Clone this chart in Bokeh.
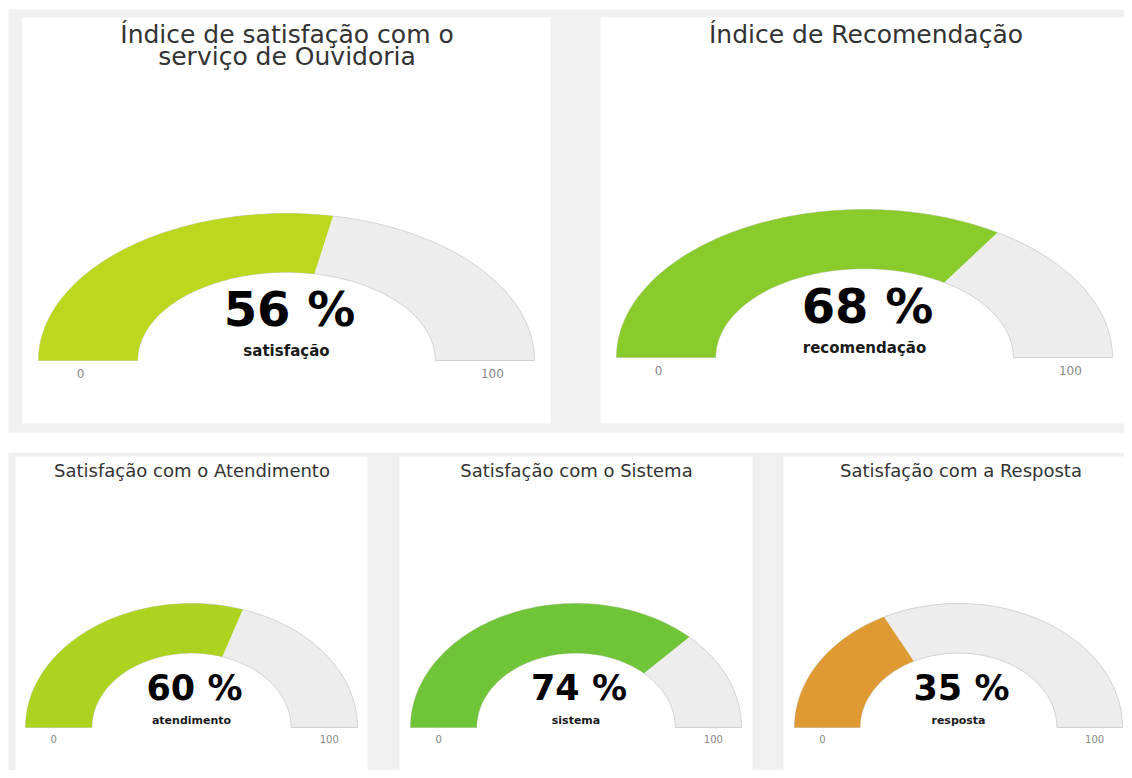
import numpy as np
from bokeh.plotting import figure
from bokeh.models import Range1d
from bokeh.core.properties import value
from bokeh.embed import file_html
from bokeh.resources import INLINE

# ---------------- data ----------------
title_lines = [["Índice de satisfação com o", "serviço de Ouvidoria"],
               ["Índice de Recomendação"],
               ["Satisfação com o Atendimento"],
               ["Satisfação com o Sistema"],
               ["Satisfação com a Resposta"]]
values_pct = [56, 68, 60, 74, 35]
value_labels = ["satisfação", "recomendação", "atendimento", "sistema", "resposta"]
gauge_min = 0
gauge_max = 100
bar_colors = ["#BBD71E", "#8ACB2C", "#ABD31F", "#6FC437", "#DF9A33"]

# ---------------- layout (picture pixels) ----------------
FONT = "DejaVu Sans"
BG_GRAY = "#F0F0F0"
W, H = 1124, 770
panels = [(22, 550, 17, 423), (600, 1128, 17, 423),
          (15, 367, 456, 778), (399, 752, 456, 778), (783, 1132, 456, 778)]
top = dict(tsize=25, vsize=48, vdy=52, lsize=15, ldy=9.5, msize=12, mdy=13)
bot = dict(tsize=18, vsize=35, vdy=40, lsize=11, ldy=7, msize=10, mdy=11)
geo = [
    dict(cx=286, cy=360, rx=248, ry=147, tx=286.5, ty=[34, 56], **top),
    dict(cx=864, cy=357, rx=248, ry=148, tx=865.5, ty=[34], **top),
    dict(cx=191, cy=727, rx=166, ry=124, tx=191.5, ty=[470], **bot),
    dict(cx=575.5, cy=727, rx=165.5, ry=124, tx=576, ty=[470], **bot),
    dict(cx=958, cy=727, rx=164, ry=124, tx=960.5, ty=[470], **bot),
]
INNER = 0.6

p = figure(width=W, height=H, x_range=Range1d(0, W), y_range=Range1d(H, 0),
           output_backend="svg", toolbar_location=None, min_border=0,
           x_axis_type=None, y_axis_type=None, outline_line_color=None,
           background_fill_color="white", border_fill_color="white")
p.grid.visible = False

# background blocks
p.quad(left=[8, 8], right=[1132, 1132], top=[9, 452], bottom=[432, 778],
       fill_color=BG_GRAY, line_color=None)
p.quad(left=[b[0] for b in panels], right=[b[1] for b in panels],
       top=[b[2] for b in panels], bottom=[b[3] for b in panels],
       fill_color="white", line_color=None)


def arc_band(g, v0, v1, n=120):
    a0 = np.pi * (1 - (v0 - gauge_min) / (gauge_max - gauge_min))
    a1 = np.pi * (1 - (v1 - gauge_min) / (gauge_max - gauge_min))
    t = np.linspace(a0, a1, n)
    xo = g["cx"] + g["rx"] * np.cos(t)
    yo = g["cy"] - g["ry"] * np.sin(t)
    xi = g["cx"] + INNER * g["rx"] * np.cos(t[::-1])
    yi = g["cy"] - INNER * g["ry"] * np.sin(t[::-1])
    return list(np.concatenate([xo, xi])), list(np.concatenate([yo, yi]))


bg_xs, bg_ys, v_xs, v_ys = [], [], [], []
for g, v in zip(geo, values_pct):
    x, y = arc_band(g, gauge_min, gauge_max)
    bg_xs.append(x); bg_ys.append(y)
    x, y = arc_band(g, gauge_min, v)
    v_xs.append(x); v_ys.append(y)

p.patches(bg_xs, bg_ys, fill_color="#EDEDED", line_color="#D2D2D2", line_width=1)
p.patches(v_xs, v_ys, fill_color=bar_colors, line_color=None)

for g, lines, v, lab in zip(geo, title_lines, values_pct, value_labels):
    p.text(x=[g["tx"]] * len(lines), y=g["ty"], text=lines, text_align="center",
           text_baseline="middle", text_font=value(FONT),
           text_font_size=value(f'{g["tsize"]}px'), text_color="#333333")
    p.text(x=[g["cx"] + 3], y=[g["cy"] - g["vdy"]], text=[f"{v} %"], text_align="center",
           text_baseline="middle", text_font=value(FONT), text_font_style="bold",
           text_font_size=value(f'{g["vsize"]}px'), text_color="#000000")
    p.text(x=[g["cx"]], y=[g["cy"] - g["ldy"]], text=[lab], text_align="center",
           text_baseline="middle", text_font=value(FONT), text_font_style="bold",
           text_font_size=value(f'{g["lsize"]}px'), text_color="#1a1a1a")
    p.text(x=[g["cx"] - 0.83 * g["rx"], g["cx"] + 0.83 * g["rx"]],
           y=[g["cy"] + g["mdy"]] * 2, text=[str(gauge_min), str(gauge_max)],
           text_align="center", text_baseline="middle", text_font=value(FONT),
           text_font_size=value(f'{g["msize"]}px'), text_color="#888888")

open("out.html", "w").write(file_html(p, INLINE))
